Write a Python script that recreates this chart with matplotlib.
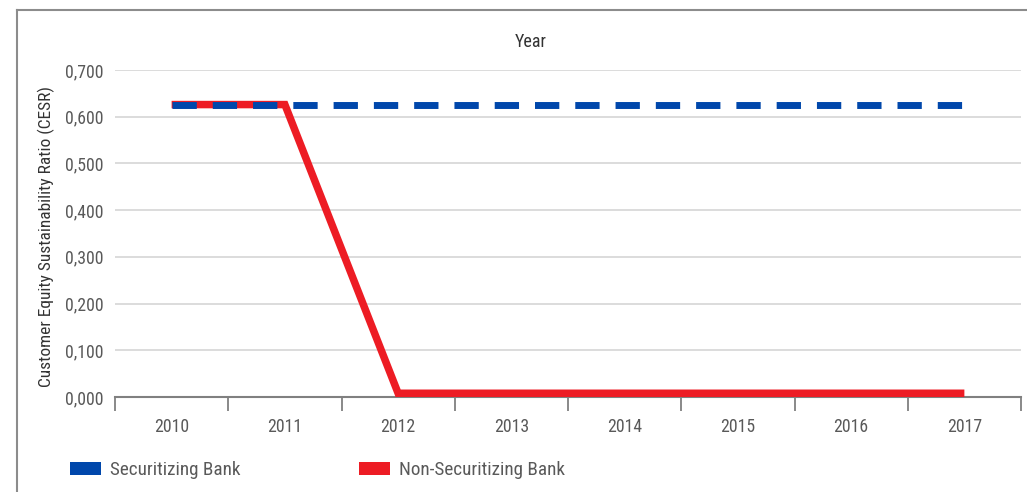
import matplotlib
matplotlib.use("Agg")
import matplotlib.pyplot as plt
from matplotlib import font_manager as fm
from matplotlib.patches import Patch
from matplotlib.lines import Line2D

years = ["2010", "2011", "2012", "2013", "2014", "2015", "2016", "2017"]
securitizing = [0.626, 0.626, 0.626, 0.626, 0.626, 0.626, 0.626, 0.626]
non_securitizing = [0.626, 0.626, 0.008, 0.008, 0.008, 0.008, 0.008, 0.008]
yticks = [0.0, 0.1, 0.2, 0.3, 0.4, 0.5, 0.6, 0.7]

blue = "#0047AB"
red = "#ED1C24"
txt = "#595959"

# pick a condensed face if one is around
have = {f.name for f in fm.fontManager.ttflist}
cands = ["Roboto Condensed", "Archivo Narrow", "PT Sans Narrow",
         "Liberation Sans Narrow", "Barlow Condensed", "Liberation Sans"]
fam = [c for c in cands if c in have][:1] + ["DejaVu Sans"]
plt.rcParams["font.family"] = fam
fs = 12.8
fs_leg = 13.75

W, H = 1027, 492
fig = plt.figure(figsize=(W / 100, H / 100), dpi=100)
ax = fig.add_axes([115 / W, 1 - 397 / H, (1021 - 115) / W, (397 - 70) / H])

x = list(range(len(years)))
ax.plot(x, non_securitizing, color=red, lw=5.4, solid_capstyle="butt",
        solid_joinstyle="miter", zorder=3)
ax.plot(x, securitizing, color=blue, lw=5.0, dashes=(3.5, 2.3),
        dash_capstyle="butt", zorder=4)

ax.set_xlim(-0.5, len(years) - 0.5)
ax.set_ylim(0, 0.7)
ax.set_yticks(yticks)
ax.set_yticklabels([f"{v:.3f}".replace(".", ",") for v in yticks],
                   fontsize=fs, color=txt)
ax.tick_params(axis="y", length=0, pad=8)
ax.set_xticks([i + 0.5 for i in range(-1, len(years))])
ax.set_xticklabels([])
ax.set_xticks(x, minor=True)
ax.set_xticklabels(years, minor=True, fontsize=fs, color=txt)
ax.tick_params(axis="x", which="major", length=10, width=1.3, color="#808080",
               direction="out")
ax.tick_params(axis="x", which="minor", length=0, pad=15)
ax.grid(axis="y", color="#d9d9d9", lw=1.3)
ax.set_axisbelow(True)
for s in ["top", "right", "left"]:
    ax.spines[s].set_visible(False)
ax.spines["bottom"].set_color("#808080")
ax.spines["bottom"].set_linewidth(1.5)
ax.spines["bottom"].set_zorder(2)

ax.set_ylabel("Customer Equity Sustainability Ratio (CESR)", fontsize=12.5,
              color="#333333")
ax.yaxis.set_label_coords((55 - 115) / 906, 0.49)
fig.text(531 / W, 1 - 42 / H, "Year", ha="center", va="center",
         fontsize=13, color="#333333")

# outer frame
fig.add_artist(Line2D([17 / W, 1], [1 - 10 / H, 1 - 10 / H], color="#8c8c8c",
                      lw=1.5, transform=fig.transFigure))
fig.add_artist(Line2D([17 / W, 17 / W], [0, 1 - 10 / H], color="#8c8c8c",
                      lw=1.5, transform=fig.transFigure))

handles = [Patch(facecolor=blue, edgecolor="none", label="Securitizing Bank"),
           Patch(facecolor=red, edgecolor="none", label="Non-Securitizing Bank")]
leg = fig.legend(handles=handles, loc="center left",
                 bbox_to_anchor=(70 / W, 1 - 470 / H), ncol=2, frameon=False,
                 fontsize=fs_leg, handlelength=1.62, handleheight=0.63,
                 handletextpad=0.47, columnspacing=6.2, borderpad=0,
                 borderaxespad=0)
for t in leg.get_texts():
    t.set_color(txt)

fig.savefig("out.png", dpi=100)
